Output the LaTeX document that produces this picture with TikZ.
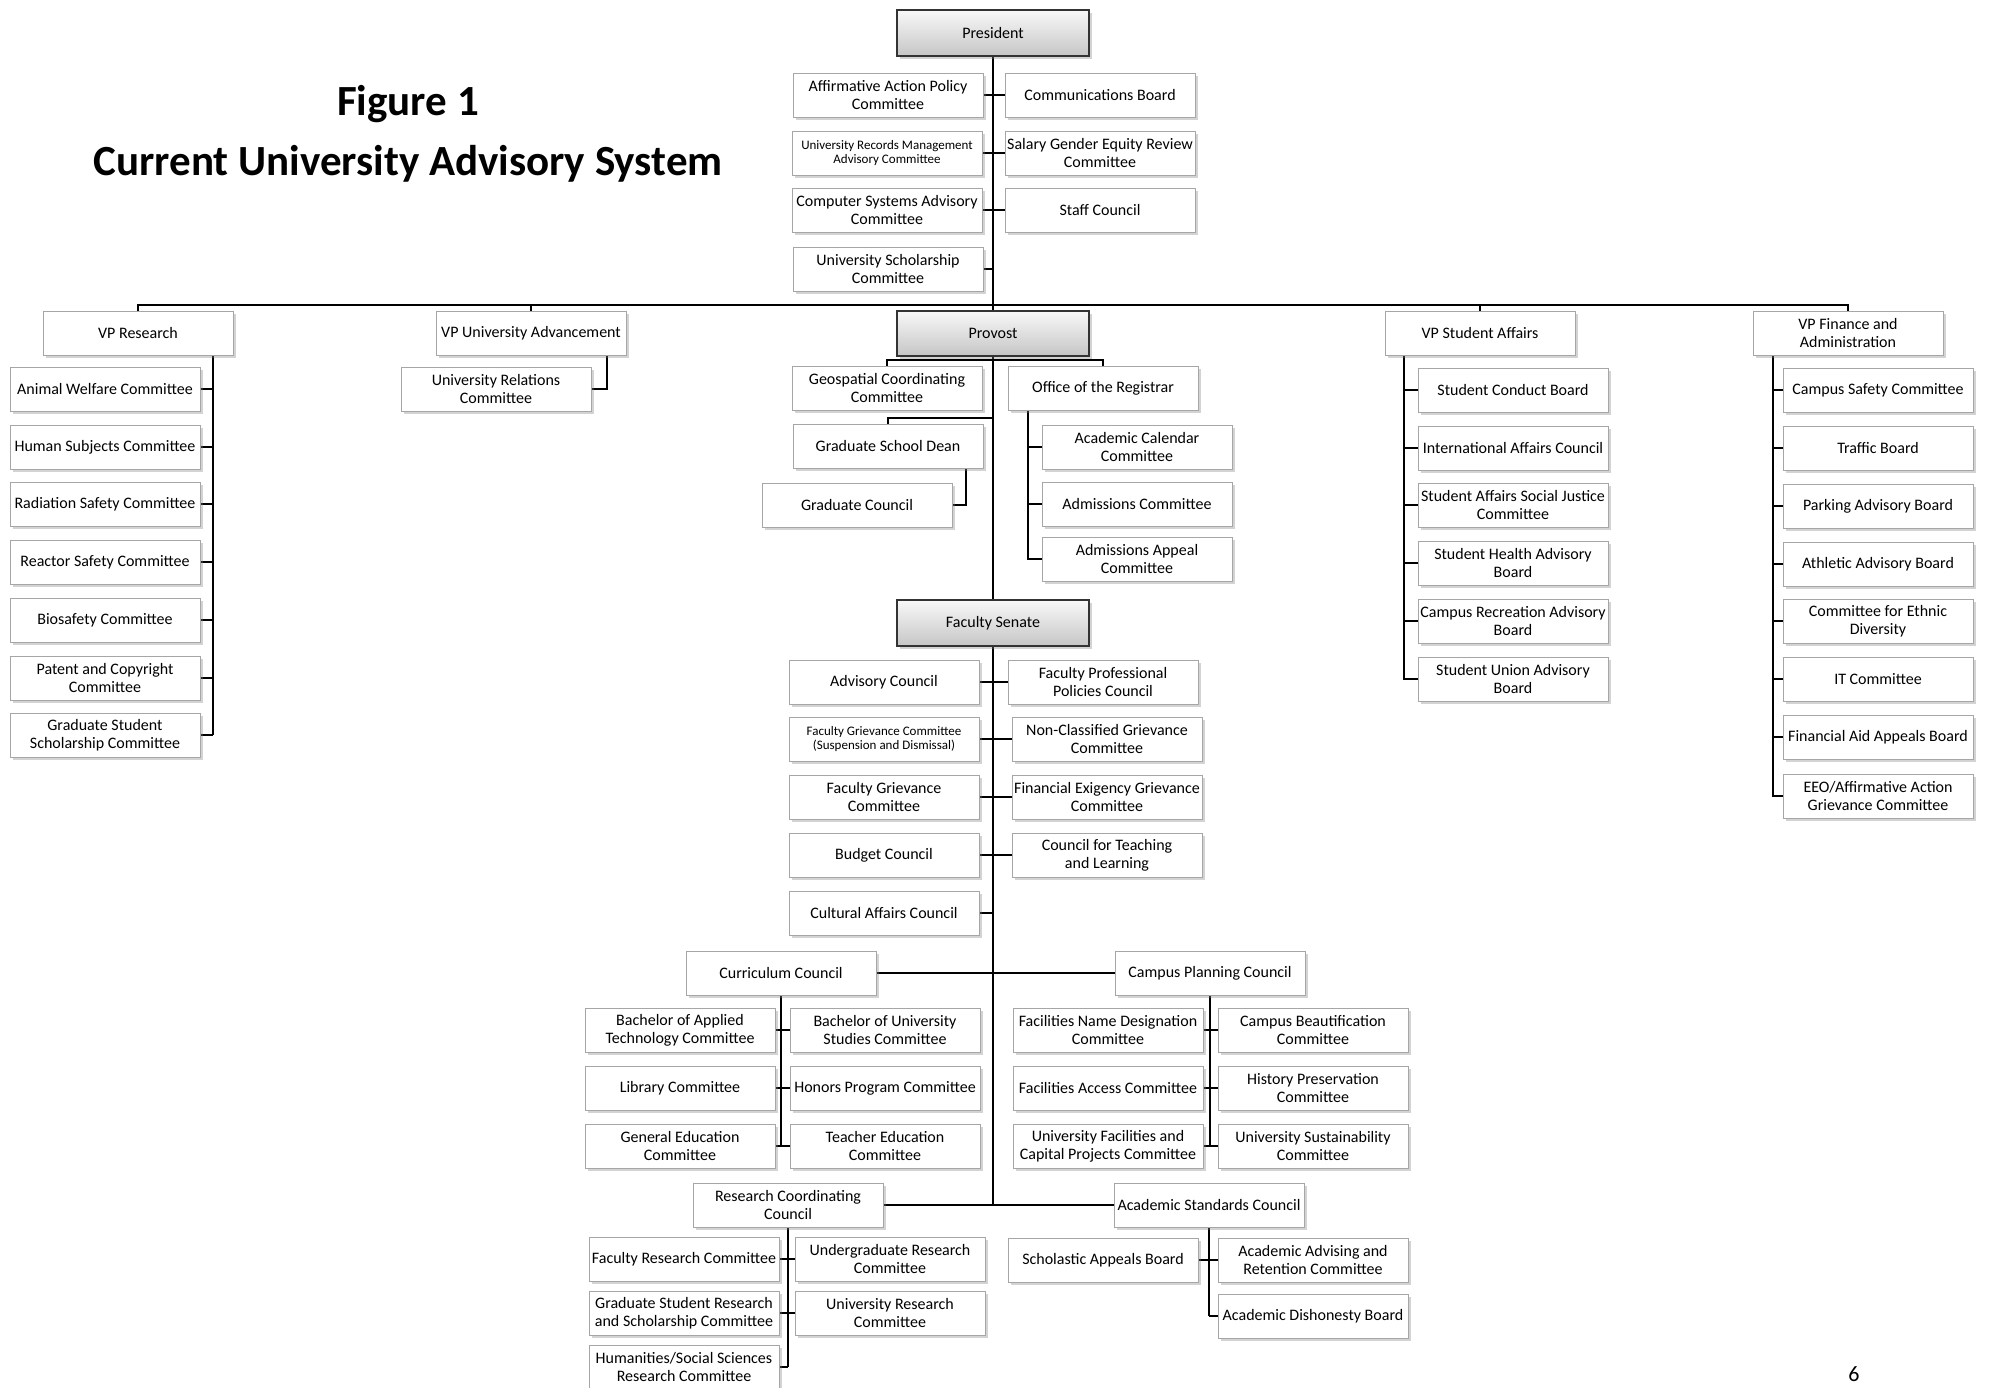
\documentclass[tikz,border=0pt]{standalone}
\usepackage{fontspec}
\setmainfont{Carlito}
\usetikzlibrary{shadows,backgrounds}
\tikzset{
  box/.style={draw=gray!70, line width=1pt, fill=white, minimum width=190pt, minimum height=44pt,
    inner xsep=1pt, inner ysep=0pt, align=center, font=\fontsize{16}{18}\selectfont,
    drop shadow={shadow xshift=2.5pt, shadow yshift=-3pt, opacity=0.35, fill=gray}},
  small/.style={font=\fontsize{13}{14.5}\selectfont},
  keybox/.style={box, draw=black!80, line width=2pt, top color=gray!5, bottom color=gray!45,
    minimum width=192pt, minimum height=46pt},
  link/.style={draw=black, line width=1.8pt},
  trunk/.style={draw=black, line width=2.8pt},
}
\begin{document}
\begin{tikzpicture}[x=1pt,y=-1pt]
\useasboundingbox (0,0) rectangle (1991,1387);
% title
\node[font=\bfseries\fontsize{43}{50}\selectfont] (t1) at (408,104) {Figure 1};
\node[font=\bfseries\fontsize{43}{50}\selectfont] (t2) at (408,164) {Current University Advisory System};
\node[font=\fontsize{22}{26}\selectfont, anchor=north, inner sep=0pt] (pg) at (1854,1366) {6};
% President
\node[keybox] (pres) at (993,33) {President};
\node[box] (aap) at (888,95) {Affirmative Action Policy\\Committee};
\node[box] (comm) at (1100,95) {Communications Board};
\node[box,small] (urm) at (887,153) {University Records Management\\Advisory Committee};
\node[box] (sal) at (1100,153) {Salary Gender Equity Review\\Committee};
\node[box] (csa) at (887,210) {Computer Systems Advisory\\Committee};
\node[box] (staff) at (1100,210) {Staff Council};
\node[box] (usc) at (888,269) {University Scholarship\\Committee};
% VP row
\node[box] (vpr) at (138,333) {VP Research};
\node[box] (vpua) at (531,333) {VP University Advancement};
\node[keybox,minimum height=45pt] (prov) at (993,333) {Provost};
\node[box] (vpsa) at (1480,333) {VP Student Affairs};
\node[box] (vpf) at (1848,333) {VP Finance and\\Administration};
% VP Research children
\node[box] (awc) at (105,389) {Animal Welfare Committee};
\node[box] (hsc) at (105,447) {Human Subjects Committee};
\node[box] (rsc) at (105,504) {Radiation Safety Committee};
\node[box] (rec) at (105,562) {Reactor Safety Committee};
\node[box] (bsc) at (105,620) {Biosafety Committee};
\node[box] (pcc) at (105,678) {Patent and Copyright\\Committee};
\node[box] (gss) at (105,735) {Graduate Student\\Scholarship Committee};
% VP UA child
\node[box] (urel) at (496,389) {University Relations\\Committee};
% Provost children
\node[box] (geo) at (887,388) {Geospatial Coordinating\\Committee};
\node[box] (reg) at (1103,388) {Office of the Registrar};
\node[box] (gsd) at (888,446) {Graduate School Dean};
\node[box] (gc) at (857,505) {Graduate Council};
\node[box] (acal) at (1137,447) {Academic Calendar\\Committee};
\node[box] (adm) at (1137,504) {Admissions Committee};
\node[box] (adma) at (1137,559) {Admissions Appeal\\Committee};
% VP SA children
\node[box] (scb) at (1513,390) {Student Conduct Board};
\node[box] (iac) at (1513,448) {International Affairs Council};
\node[box] (sasj) at (1513,505) {Student Affairs Social Justice\\Committee};
\node[box] (shab) at (1513,563) {Student Health Advisory\\Board};
\node[box] (crab) at (1513,621) {Campus Recreation Advisory\\Board};
\node[box] (suab) at (1513,679) {Student Union Advisory\\Board};
% VP Finance children
\node[box] (csc) at (1878,390) {Campus Safety Committee};
\node[box] (tb) at (1878,448) {Traffic Board};
\node[box] (pab) at (1878,506) {Parking Advisory Board};
\node[box] (aab) at (1878,564) {Athletic Advisory Board};
\node[box] (ced) at (1878,621) {Committee for Ethnic\\Diversity};
\node[box] (itc) at (1878,679) {IT Committee};
\node[box] (faab) at (1878,737) {Financial Aid Appeals Board};
\node[box] (eeo) at (1878,796) {EEO/Affirmative Action\\Grievance Committee};
% Faculty Senate
\node[keybox] (fs) at (993,623) {Faculty Senate};
\node[box] (adv) at (884,682) {Advisory Council};
\node[box] (fpp) at (1103,682) {Faculty Professional\\Policies Council};
\node[box,small] (fgsd) at (884,739) {Faculty Grievance Committee\\(Suspension and Dismissal)};
\node[box] (ncg) at (1107,739) {Non-Classified Grievance\\Committee};
\node[box] (fgc) at (884,797) {Faculty Grievance\\Committee};
\node[box] (feg) at (1107,797) {Financial Exigency Grievance\\Committee};
\node[box] (bud) at (884,855) {Budget Council};
\node[box] (ctl) at (1107,855) {Council for Teaching\\and Learning};
\node[box] (caf) at (884,913) {Cultural Affairs Council};
% Curriculum / Campus planning
\node[box] (cur) at (781,973) {Curriculum Council};
\node[box] (cpc) at (1210,973) {Campus Planning Council};
\node[box] (bat) at (680,1030) {Bachelor of Applied\\Technology Committee};
\node[box] (bus) at (885,1030) {Bachelor of University\\Studies Committee};
\node[box] (lib) at (680,1088) {Library Committee};
\node[box] (hon) at (885,1088) {Honors Program Committee};
\node[box] (ged) at (680,1146) {General Education\\Committee};
\node[box] (ted) at (885,1146) {Teacher Education\\Committee};
\node[box] (fnd) at (1108,1030) {Facilities Name Designation\\Committee};
\node[box] (cbe) at (1313,1030) {Campus Beautification\\Committee};
\node[box] (fac) at (1108,1088) {Facilities Access Committee};
\node[box] (his) at (1313,1088) {History Preservation\\Committee};
\node[box] (ufc) at (1108,1146) {University Facilities and\\Capital Projects Committee};
\node[box] (usu) at (1313,1146) {University Sustainability\\Committee};
% Research / Academic standards
\node[box] (rcc) at (788,1205) {Research Coordinating\\Council};
\node[box] (asc) at (1209,1205) {Academic Standards Council};
\node[box] (frc) at (684,1259) {Faculty Research Committee};
\node[box] (urc) at (890,1259) {Undergraduate Research\\Committee};
\node[box] (gsr) at (684,1313) {Graduate Student Research\\and Scholarship Committee};
\node[box] (unr) at (890,1313) {University Research\\Committee};
\node[box] (hss) at (684,1367) {Humanities/Social Sciences\\Research Committee};
\node[box] (sab) at (1103,1260) {Scholastic Appeals Board};
\node[box] (aar) at (1313,1260) {Academic Advising and\\Retention Committee};
\node[box] (adb) at (1313,1316) {Academic Dishonesty Board};
% helper coordinates
\coordinate (busy) at (0,305);
\coordinate (vprl) at (213,355);
\coordinate (uar) at (607,355);
\coordinate (pb) at (0,360);
\coordinate (gsdy) at (0,418);
\coordinate (gsdb) at (966,469);
\coordinate (regl) at (1028,409);
\coordinate (vpsal) at (1404,355);
\coordinate (vpfl) at (1773,355);
\begin{scope}[on background layer]
\draw[trunk] (pres.south) -- (pres.south |- rcc.east);
\foreach \n in {aap,urm,csa,usc} \draw[link] (\n.east) -- (\n.east -| pres.south);
\foreach \n in {comm,sal,staff} \draw[link] (\n.west) -- (\n.west -| pres.south);
% bus
\draw[link] (vpr.north) -- (vpr.north |- busy) -- (vpf.north |- busy) -- (vpf.north);
\draw[link] (vpua.north) -- (vpua.north |- busy);
\draw[link] (vpsa.north) -- (vpsa.north |- busy);
% VP Research
\draw[link] (vprl) -- (vprl |- gss.east);
\foreach \n in {awc,hsc,rsc,rec,bsc,pcc,gss} \draw[link] (\n.east) -- (\n.east -| vprl);
% VP UA
\draw[link] (uar) |- (urel.east);
% Provost
\draw[link] (geo.north) -- (geo.north |- pb) -- (reg.north |- pb) -- (reg.north);
\draw[link] (gsd.north) -- (gsd.north |- gsdy) -- (prov.south |- gsdy);
\draw[link] (gsdb) |- (gc.east);
\draw[link] (regl) |- (adma.west);
\foreach \n in {acal,adm} \draw[link] (\n.west) -- (\n.west -| regl);
% VP SA
\draw[link] (vpsal) |- (suab.west);
\foreach \n in {scb,iac,sasj,shab,crab} \draw[link] (\n.west) -- (\n.west -| vpsal);
% VP Finance
\draw[link] (vpfl) |- (eeo.west);
\foreach \n in {csc,tb,pab,aab,ced,itc,faab} \draw[link] (\n.west) -- (\n.west -| vpfl);
% Faculty senate
\foreach \n in {adv,fgsd,fgc,bud,caf} \draw[link] (\n.east) -- (\n.east -| fs.south);
\foreach \n in {fpp,ncg,feg,ctl} \draw[link] (\n.west) -- (\n.west -| fs.south);
% councils
\draw[link] (cur.east) -- (cpc.west);
\draw[link] (cur.south) -- (cur.south |- ged.east);
\foreach \n in {bat,lib,ged} \draw[link] (\n.east) -- (\n.east -| cur.south);
\foreach \n in {bus,hon,ted} \draw[link] (\n.west) -- (\n.west -| cur.south);
\draw[link] (cpc.south) -- (cpc.south |- ufc.east);
\foreach \n in {fnd,fac,ufc} \draw[link] (\n.east) -- (\n.east -| cpc.south);
\foreach \n in {cbe,his,usu} \draw[link] (\n.west) -- (\n.west -| cpc.south);
\draw[link] (rcc.east) -- (asc.west);
\draw[link] (rcc.south) -- (rcc.south |- hss.east);
\foreach \n in {frc,gsr,hss} \draw[link] (\n.east) -- (\n.east -| rcc.south);
\foreach \n in {urc,unr} \draw[link] (\n.west) -- (\n.west -| rcc.south);
\draw[link] (asc.south) -- (asc.south |- adb.west);
\draw[link] (sab.east) -- (sab.east -| asc.south);
\foreach \n in {aar,adb} \draw[link] (\n.west) -- (\n.west -| asc.south);
\end{scope}
\end{tikzpicture}
\end{document}
